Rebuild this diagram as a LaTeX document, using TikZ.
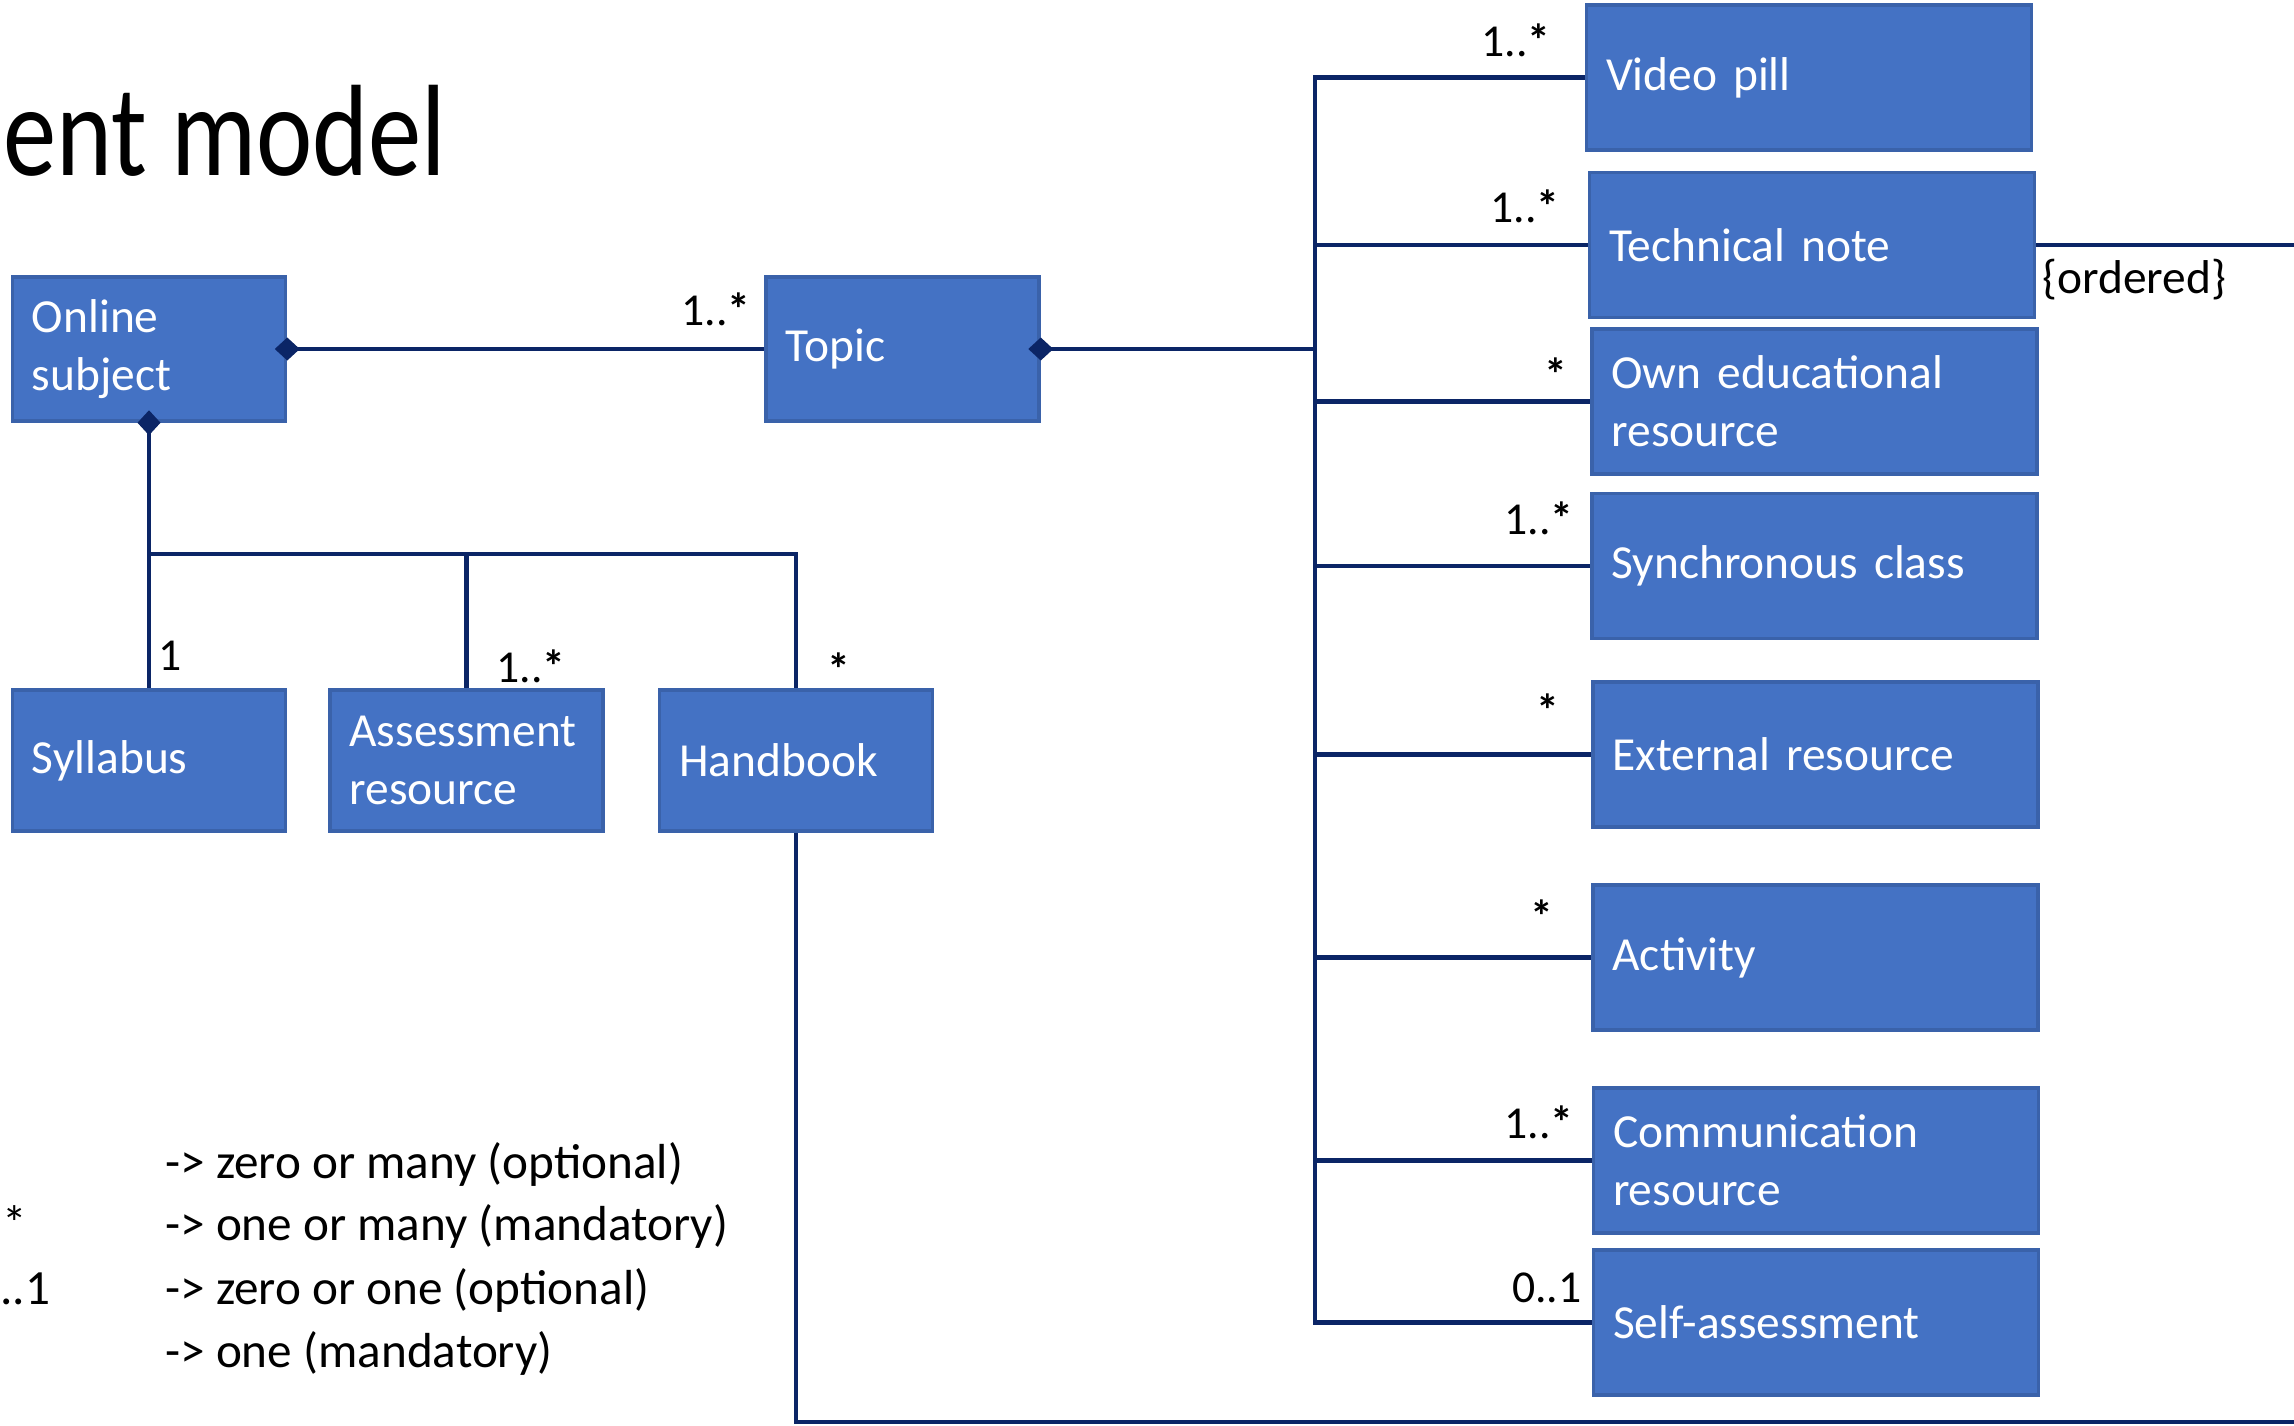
\documentclass[tikz,border=0pt]{standalone}
\usepackage{fontspec}
\setmainfont{Carlito}
\newfontfamily\titlefont[FakeStretch=0.82]{Carlito}
\usetikzlibrary{arrows.meta,positioning}

\definecolor{clsfill}{HTML}{4472C4}
\definecolor{clsrim}{HTML}{3A62AA}
\definecolor{linknavy}{HTML}{0B2566}

\newcommand{\mstar}{\textbf{*}}

\tikzset{
    umlclass/.style={rectangle, fill=clsfill, draw=clsrim, line width=2pt, text=white,
        align=left, inner xsep=3.9mm, font=\fontsize{27}{33}\selectfont},
    leftcls/.style={umlclass, text width=46.8mm, minimum width=54.6mm, minimum height=28.2mm},
    rightcls/.style={umlclass, text width=81.2mm, minimum width=89mm, minimum height=29mm},
    link/.style={draw=linknavy, line width=2.7pt},
    compo/.style={{Diamond[length=5mm,width=4.6mm,line width=0pt]}-, shorten <=-2.5mm},
    mult/.style={inner sep=0pt, font=\fontsize{26}{30}\selectfont},
    legend/.style={inner sep=0pt, anchor=base west, font=\fontsize{28}{34}\selectfont}
}

\begin{document}
\begin{tikzpicture}[x=0.2mm, y=-0.2mm]

    \useasboundingbox (0,0) rectangle (2294,1425);

    % Title, cut at the left edge
    \node[anchor=base west, inner sep=0pt, font=\titlefont\fontsize{74}{80}\selectfont] (title) at (3,175) {ent model};

    % Subject and its parts
    \node[leftcls, minimum height=28.8mm] (subject) at (149,349) {Online\\subject};
    \node[leftcls, minimum height=28.8mm] (topic) at (902.5,349) {Topic};

    \node[leftcls] (syllabus) at (149,760.5) {Syllabus};
    \node[leftcls] (assessment) at (466.5,760.5) {Assessment\\resource};
    \node[leftcls] (handbook) at (796,760.5) {Handbook};

    % Resources of a topic
    \node[rightcls] (video) at (1809,77.5) {Video pill};
    \node[rightcls] (technote) at (1812,245) {Technical note};
    \node[rightcls] (ownres) at (1814.5,401.5) {Own educational\\resource};
    \node[rightcls] (sync) at (1814.5,566) {Synchronous class};
    \node[rightcls] (external) at (1815.5,754.5) {External resource};
    \node[rightcls] (activity) at (1815.5,957.5) {Activity};
    \node[rightcls] (commres) at (1816,1160.5) {Communication\\resource};
    \node[rightcls] (selfassess) at (1816,1322.5) {Self-assessment};

    \coordinate (hub) at (1315,349);
    \coordinate (bus) at (149,554);
    \coordinate (orderend) at (2294,245);
    \coordinate (loopturn) at (796,1422);
    \coordinate (loopend) at (2294,1422);

    \draw[link, compo] (subject.east) -- (topic.west);
    \draw[link, compo] (topic.east) -- (hub);

    \draw[link] (hub) |- (video.west);
    \draw[link] (hub) |- (technote.west);
    \draw[link] (hub) |- (ownres.west);
    \draw[link] (hub) |- (sync.west);
    \draw[link] (hub) |- (external.west);
    \draw[link] (hub) |- (activity.west);
    \draw[link] (hub) |- (commres.west);
    \draw[link] (hub) |- (selfassess.west);

    \draw[link, compo] (subject.south) -- (syllabus.north);
    \draw[link] (bus) -| (assessment.north);
    \draw[link] (bus) -| (handbook.north);

    \draw[link] (technote.east) -- (orderend);
    \draw[link] (handbook.south) -- (loopturn) -- (loopend);

    % Multiplicities
    \node[mult, anchor=base east] (mtopic) at (751,325) {1..\mstar};
    \node[mult, anchor=base west] (msyllabus) at (158,670) {1};
    \node[mult, anchor=base east] (massess) at (566,682) {1..\mstar};
    \node[mult, anchor=base east] (mhandbook) at (851,685) {\mstar};

    \node[mult, anchor=base east] (mvideo) at (1551,57) {1..\mstar};
    \node[mult, anchor=base east] (mtechnote) at (1560,222) {1..\mstar};
    \node[mult, anchor=base east] (mownres) at (1568,390) {\mstar};
    \node[mult, anchor=base east] (msync) at (1574,534) {1..\mstar};
    \node[mult, anchor=base east] (mexternal) at (1560,726) {\mstar};
    \node[mult, anchor=base east] (mactivity) at (1554,932) {\mstar};
    \node[mult, anchor=base east] (mcommres) at (1574,1138) {1..\mstar};
    \node[mult, anchor=base east] (mselfassess) at (1582,1302) {0..1};

    \node[mult, anchor=base west, font=\fontsize{27}{32}\selectfont] (ordered) at (2042,293) {\{ordered\}};

    % Legend
    \node[legend] (legstar) at (2,1240) {*};
    \node[legend] (legzero) at (0,1304) {..1};

    \node[legend] (leg1) at (165,1178) {-> zero or many (optional)};
    \node[legend] (leg2) at (165,1240) {-> one or many (mandatory)};
    \node[legend] (leg3) at (165,1304) {-> zero or one (optional)};
    \node[legend] (leg4) at (165,1367) {-> one (mandatory)};

\end{tikzpicture}
\end{document}
